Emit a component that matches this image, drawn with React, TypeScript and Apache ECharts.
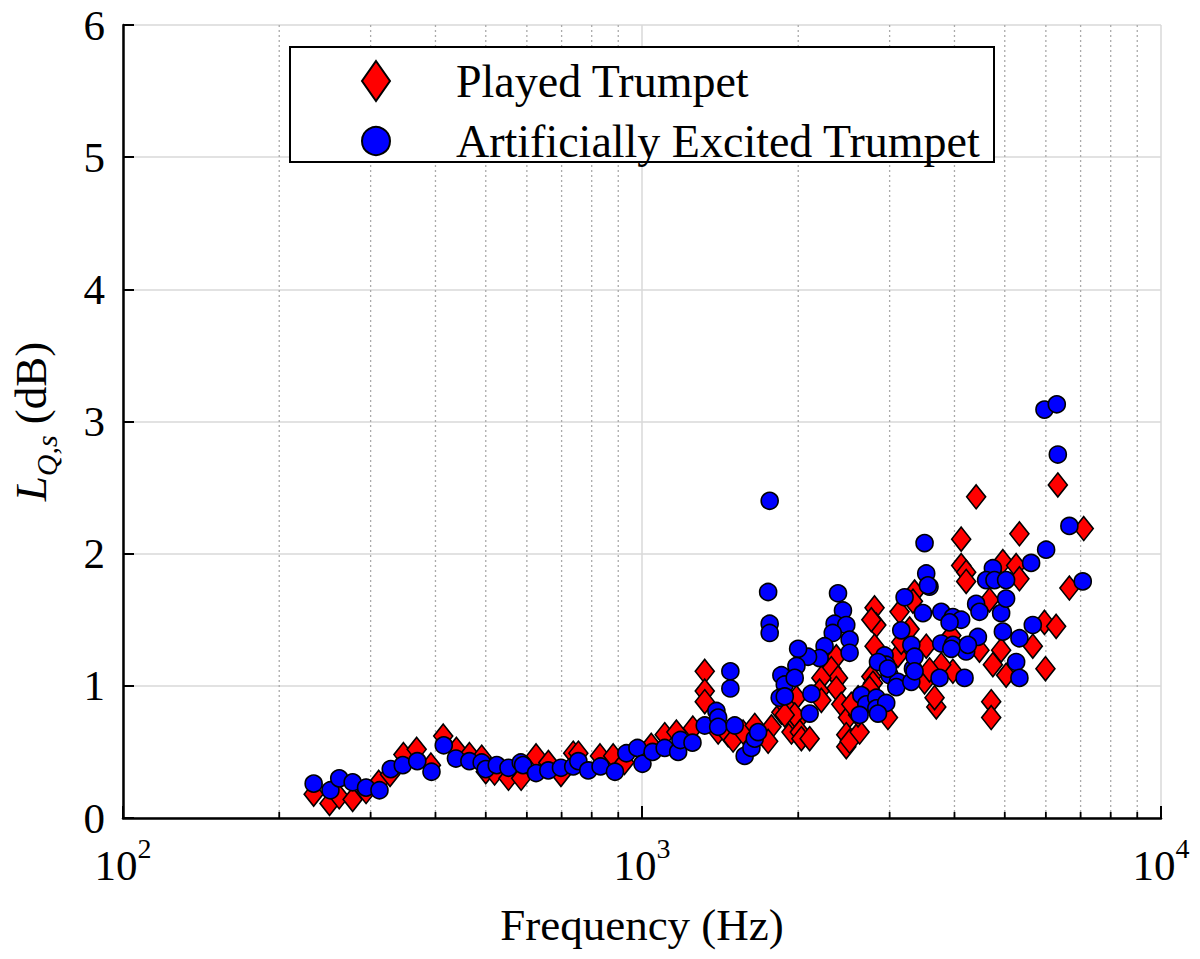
import { useEffect, useRef } from "react";
import * as echarts from "echarts";

// [frequency (Hz), L_Q,s (dB)]
const playedTrumpet: [number, number][] = [
  [233, 0.18], [250, 0.11], [261, 0.16], [277, 0.14], [294, 0.2], [311, 0.27], [327, 0.33],
  [347, 0.48], [368, 0.52], [392, 0.4], [414, 0.62], [439, 0.52], [465, 0.48], [491, 0.46],
  [500, 0.35], [520, 0.34], [553, 0.3], [585, 0.3], [625, 0.47], [660, 0.42], [698, 0.33],
  [737, 0.49], [754, 0.49], [830, 0.47], [880, 0.47], [925, 0.42], [1042, 0.55], [1106, 0.63],
  [1165, 0.65], [1253, 0.68], [1321, 1.11], [1321, 0.96], [1321, 0.88],
  [1402, 0.65], [1466, 0.63], [1498, 0.59], [1566, 0.65], [1649, 0.7], [1776, 0.69], [1750, 0.58],
  [1856, 0.8], [1984, 0.91], [1941, 0.65], [1984, 0.73], [1884, 0.86], [1969, 0.78], [1884, 0.78],
  [2014, 0.65], [2028, 0.6], [2104, 0.6],
  [2368, 1.22], [2316, 1.13], [2386, 1.06], [2216, 1.06], [2368, 0.98], [2199, 0.96], [2216, 0.89],
  [2806, 1.59], [2828, 1.46], [2806, 1.3], [2766, 1.5], [2766, 1.07], [2786, 1.02], [2745, 0.98],
  [2421, 0.86], [2494, 0.76], [2475, 0.63], [2475, 0.54], [2512, 0.58], [2626, 0.65], [2608, 0.91],
  [2608, 0.78], [2531, 0.86], [2978, 0.76], [3113, 1.23], [3159, 1.33], [3135, 1.56], [3351, 1.71],
  [3327, 1.64], [3278, 1.43], [3529, 1.3], [3944, 1.38], [3972, 1.11], [3690, 0.84], [3662, 0.91],
  [3503, 1.03], [3772, 1.16], [3581, 1.12], [4121, 2.11], [4121, 1.91], [4213, 1.86], [4213, 1.79],
  [4672, 1.65], [4958, 1.94], [5259, 1.91], [5336, 1.81], [5336, 2.15], [4469, 1.27], [4920, 1.27],
  [5662, 1.3], [5963, 1.48], [6280, 1.45], [4743, 1.16], [5030, 1.08], [5989, 1.13], [4708, 0.88],
  [4708, 0.76], [6660, 1.74], [7098, 2.19], [4404, 2.43], [6327, 2.52],
];

const excitedTrumpet: [number, number][] = [
  [233, 0.26], [251, 0.21], [261, 0.3], [277, 0.27], [294, 0.23], [312, 0.21], [328, 0.37],
  [346, 0.4], [369, 0.43], [393, 0.35], [415, 0.55], [438, 0.45], [465, 0.43], [491, 0.42],
  [500, 0.37], [525, 0.4], [553, 0.38], [584, 0.42], [590, 0.4], [625, 0.34], [660, 0.36],
  [698, 0.38], [737, 0.39], [754, 0.43], [788, 0.36], [832, 0.39], [887, 0.35], [933, 0.49],
  [980, 0.53], [1002, 0.41], [1048, 0.5], [1106, 0.53], [1174, 0.5], [1186, 0.59], [1251, 0.57],
  [1321, 0.7], [1391, 0.81], [1402, 0.76], [1402, 0.69], [1480, 1.11], [1480, 0.98], [1509, 0.7],
  [1577, 0.47], [1625, 0.53], [1649, 0.6], [1674, 0.65], [1762, 2.4], [1750, 1.71], [1762, 1.47],
  [1762, 1.4], [1856, 1.08], [1884, 1.01], [1842, 0.91],
  [2386, 1.7], [2439, 1.57], [2350, 1.47], [2475, 1.46], [2512, 1.35], [2512, 1.25], [2331, 1.4],
  [2248, 1.3], [2199, 1.21], [2089, 1.22], [1999, 1.28], [1984, 1.15], [1969, 1.06], [1884, 0.92],
  [2120, 0.94], [2104, 0.79], [2646, 0.93], [2705, 0.86], [2626, 0.78], [2828, 0.91], [2828, 0.83],
  [2934, 1.23], [2955, 1.16], [2999, 1.08], [2955, 0.87], [3113, 1.03], [3090, 0.99], [3159, 1.42],
  [3206, 1.67], [3303, 1.31], [3327, 1.13], [3303, 1.03], [2849, 1.18], [2978, 1.13], [2849, 0.79],
  [3503, 2.08], [3529, 1.85], [3581, 1.75], [3478, 1.55], [3772, 1.56], [3972, 1.52], [4121, 1.5],
  [3914, 1.48], [3351, 1.22], [3351, 1.11], [3772, 1.32], [3972, 1.31], [4213, 1.26], [4438, 1.37],
  [3744, 1.06], [4183, 1.06], [4743, 1.89], [4604, 1.8], [4777, 1.8], [5030, 1.8], [4404, 1.62],
  [4469, 1.56], [4920, 1.55], [5030, 1.66], [4958, 1.41], [5336, 1.36], [5259, 1.18], [5336, 1.06],
  [5620, 1.93], [6007, 2.03], [5662, 1.46], [6660, 2.21], [7067, 1.79], [5963, 3.09], [6298, 3.13],
  [6327, 2.75], [3556, 1.76], [4245, 1.31], [3944, 1.28],
];

const minorFreqs: number[] = [200, 300, 400, 500, 600, 700, 800, 900, 2000, 3000, 4000, 5000, 6000, 7000, 8000, 9000];
const seriesNames = ["Played Trumpet", "Artificially Excited Trumpet"];
const xAxisTitle = "Frequency (Hz)";
const xRange = [100, 10000];
const yRange = [0, 6];

const FONT = "'Liberation Serif', 'DejaVu Serif', serif";

export default function App() {
  const ref = useRef<HTMLDivElement>(null);

  useEffect(() => {
    const chart = echarts.init(ref.current!, null, { renderer: "svg" });
    const option: any = {
      animation: false,
      backgroundColor: "#ffffff",
      grid: { left: 121, right: 39, top: 25, bottom: 141, containLabel: false },
      xAxis: {
        type: "log",
        logBase: 10,
        min: xRange[0],
        max: xRange[1],
        name: xAxisTitle,
        nameLocation: "middle",
        nameGap: 84,
        nameTextStyle: { fontFamily: FONT, fontSize: 45, color: "#000" },
        axisLine: { show: true, onZero: false, lineStyle: { color: "#000", width: 2.5 } },
        axisTick: { show: true, inside: true, length: 12, lineStyle: { color: "#000", width: 2 } },
        splitLine: { show: true, lineStyle: { color: "#d9d9d9", width: 1.5 } },
        axisLabel: {
          margin: 16,
          color: "#000",
          formatter: (v: number) => `{b|10}{p|${Math.round(Math.log10(v))}}`,
          rich: {
            b: { fontFamily: FONT, fontSize: 43, color: "#000", verticalAlign: "bottom", padding: [10, 0, 0, 0] },
            p: { fontFamily: FONT, fontSize: 28, color: "#000", verticalAlign: "top" },
          },
        },
      },
      yAxis: {
        type: "value",
        min: yRange[0],
        max: yRange[1],
        interval: 1,
        name: "{i|L}{s|Q,s}{n| (dB)}",
        nameLocation: "middle",
        nameRotate: 90,
        nameGap: 62,
        nameTextStyle: {
          rich: {
            i: { fontFamily: FONT, fontStyle: "italic", fontSize: 45, color: "#000", verticalAlign: "bottom", padding: [0, 0, 8, 0] },
            s: { fontFamily: FONT, fontStyle: "italic", fontSize: 30, color: "#000", verticalAlign: "bottom" },
            n: { fontFamily: FONT, fontSize: 45, color: "#000", verticalAlign: "bottom", padding: [0, 0, 8, 0] },
          },
        },
        axisLine: { show: true, lineStyle: { color: "#000", width: 2.5 } },
        axisTick: { show: true, inside: true, length: 11, lineStyle: { color: "#000", width: 2 } },
        splitLine: { show: true, lineStyle: { color: "#d9d9d9", width: 1.5 } },
        axisLabel: { fontFamily: FONT, fontSize: 43, color: "#000", margin: 18 },
      },
      legend: {
        data: seriesNames,
        orient: "vertical",
        left: 361,
        top: 58,
        padding: 0,
        itemWidth: 28,
        itemHeight: 40,
        itemGap: 14,
        z: 6,
        textStyle: { fontFamily: FONT, fontSize: 46, color: "#000", padding: [0, 0, 0, 61] },
      },
      graphic: [
        {
          type: "rect",
          z: 5,
          shape: { x: 290, y: 47, width: 704, height: 115 },
          style: { fill: "#fff", stroke: "#000", lineWidth: 2 },
        },
      ],
      series: [
        {
          type: "custom",
          silent: true,
          z: 1,
          data: minorFreqs.map((f) => [f, yRange[0]]),
          encode: { x: 0, y: 1 },
          renderItem: (_p: any, api: any) => {
            const f = api.value(0);
            const bot = api.coord([f, yRange[0]]);
            const top = api.coord([f, yRange[1]]);
            return {
              type: "group",
              children: [
                {
                  type: "line",
                  shape: { x1: bot[0], y1: top[1], x2: bot[0], y2: bot[1] },
                  style: { stroke: "#aaaaaa", lineWidth: 1.3, lineDash: [2, 3] },
                },
                {
                  type: "line",
                  shape: { x1: bot[0], y1: bot[1], x2: bot[0], y2: bot[1] - 6 },
                  style: { stroke: "#000", lineWidth: 1.8 },
                },
              ],
            };
          },
        },
        {
          name: seriesNames[0],
          type: "scatter",
          z: 3,
          symbol: "diamond",
          symbolSize: [19, 24],
          data: playedTrumpet,
          itemStyle: { color: "#ff0000", borderColor: "#000", borderWidth: 1.6, opacity: 1 },
        },
        {
          name: seriesNames[1],
          type: "scatter",
          z: 4,
          symbol: "circle",
          symbolSize: 17,
          data: excitedTrumpet,
          itemStyle: { color: "#0000ff", borderColor: "#000", borderWidth: 1.6, opacity: 1 },
        },
      ],
    };
    chart.setOption(option);
    return () => chart.dispose();
  }, []);

  return (
    <div
      ref={ref}
      style={{ position: "fixed", left: 0, top: 0, width: 1200, height: 959, background: "#fff" }}
    />
  );
}
